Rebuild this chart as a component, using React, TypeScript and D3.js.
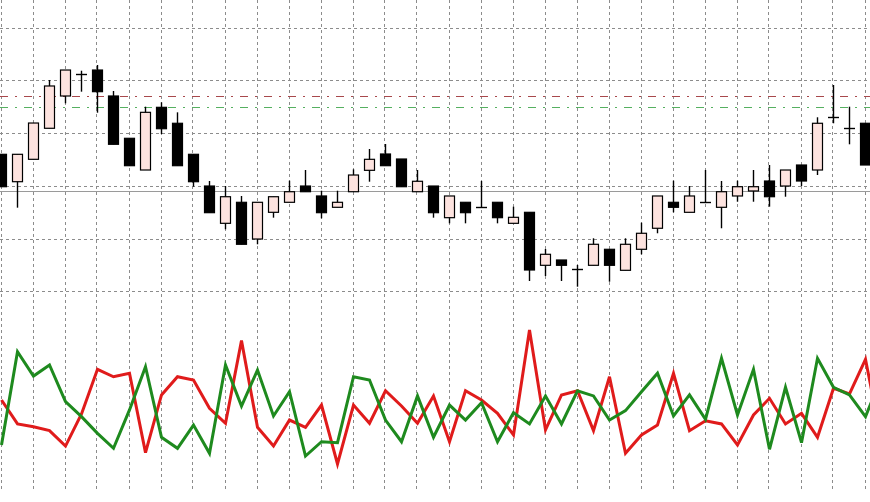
import React from "react";
import * as d3 from "d3";

const W = 870;
const H = 502;

// Candle data (price units)
const candleOpen = [76.08,70.88,75.13,81.02,87.15,91.14,92.08,87.15,79.12,73.10,85.00,81.97,76.08,70.06,62.98,66.97,60.00,65.07,66.97,70.06,68.17,66.02,68.98,73.04,76.14,75.19,68.98,70.06,64.05,66.97,66.02,66.97,62.98,65.07,55.01,56.02,54.12,55.01,58.05,54.06,58.05,62.04,66.97,65.07,66.97,66.02,68.17,69.12,71.01,70.06,74.05,73.10,83.11,81.02,81.97];
const candleHigh = [76.08,76.08,82.02,90.19,92.08,91.95,93.03,88.10,79.12,85.12,85.95,84.05,76.08,71.01,70.06,68.17,66.97,68.03,71.07,73.10,69.17,69.17,73.23,77.09,78.04,75.19,73.10,70.06,68.17,66.97,71.01,66.97,66.14,65.07,58.11,56.02,55.07,60.14,58.05,60.14,63.10,68.17,71.07,70.06,73.10,71.01,71.07,73.10,74.05,73.10,74.05,83.11,89.24,85.12,81.97];
const candleLow = [69.93,65.95,75.13,81.02,85.76,87.97,83.98,77.98,73.92,73.10,79.94,73.92,69.93,65.00,61.85,59.00,59.00,64.05,66.97,68.98,63.93,66.02,68.98,70.88,73.92,69.93,68.98,64.05,62.98,62.98,66.02,62.98,62.98,52.03,52.98,52.03,50.95,55.01,51.90,54.06,57.10,61.09,65.07,65.07,66.97,62.04,67.08,67.08,66.14,68.03,70.06,72.15,81.97,77.98,74.05];
const candleClose = [69.93,76.08,82.02,89.05,92.08,91.14,87.97,77.98,73.92,84.05,80.94,73.92,70.88,65.00,68.03,59.00,66.97,68.03,68.98,68.98,65.00,66.97,72.15,75.13,73.92,69.93,70.96,65.00,68.17,65.00,66.02,64.05,64.12,54.12,57.10,55.01,54.12,59.00,55.01,59.00,61.09,68.17,66.02,68.17,66.97,68.98,69.93,69.93,68.03,73.10,71.01,81.97,83.11,81.02,74.05];

// Horizontal price grid levels
const priceGrid = [50, 60, 70, 80, 90, 100];
// Reference levels
const redLevel = 87.02;
const greenLevel = 85.0;
const grayLevel = 68.98;

// Oscillator series (0..100)
const redOsc = [50,32.9,30.9,28.1,17.1,40,71.9,66.6,69.1,12.4,53.6,66.6,64.3,44.1,33.4,92.4,30.5,17.1,35.7,30.5,46.4,4.3,46.4,33.4,56.6,45.7,33.4,52.9,20.2,56.6,50,40.5,25,100,28.6,53.6,56.6,28.1,66.6,11.9,25,32.1,69.1,28.1,35.2,32.9,17.9,39.3,51.2,32.9,40.5,23.4,58.4,54.3,79.1,20.7];
const greenOsc = [17.9,84.5,67.1,75,48.8,38.1,26.2,15.5,42.9,73.8,23.4,15.5,32.1,11.9,75,45.7,71.4,38.6,55.9,10,20.2,19.5,66.6,64.3,35.7,20.2,52.9,23.4,46.4,35.7,48.1,20.2,40.9,32.9,52.9,32.9,56.6,52.9,35.7,42.4,55.9,69.1,38.6,53.6,36.2,79.8,39.3,71.9,14.8,59.1,19.5,79.8,59.1,53.6,38.1,66.6];

export default function App() {
  const x = d3.scaleLinear().domain([0, 54]).range([1.5, 865.5]);
  const y = d3.scaleLinear().domain([50, 100]).range([291.7, 28.3]);
  const y2 = d3.scaleLinear().domain([0, 100]).range([470, 330]);

  const crisp = (v: number) => Math.round(v - 0.5) + 0.5;

  const gridXs = d3.range(0, 56, 2).map((i) => crisp(x(i) - 0.5));
  const lineGen = d3
    .line<number>()
    .x((_, i) => x(i))
    .y((d) => y2(d));

  const gridColor = "#8c8c8c";

  return (
    <svg
      width={W}
      height={H}
      style={{ position: "absolute", left: 0, top: 0, background: "#fff" }}
    >
      <rect x={0} y={0} width={W} height={H} fill="#fff" />
      {/* vertical grid */}
      {gridXs.map((gx, k) => (
        <line
          key={"vg" + k}
          x1={gx}
          x2={gx}
          y1={0}
          y2={491}
          stroke={gridColor}
          strokeWidth={1}
          strokeDasharray="3,3"
        />
      ))}
      {/* horizontal grid */}
      {priceGrid.map((p, k) => (
        <line
          key={"hg" + k}
          x1={0}
          x2={W}
          y1={crisp(y(p))}
          y2={crisp(y(p))}
          stroke={gridColor}
          strokeWidth={1}
          strokeDasharray="3,3"
        />
      ))}
      {/* gray level */}
      <line x1={0} x2={W} y1={crisp(y(grayLevel))} y2={crisp(y(grayLevel))} stroke="#9a9a9a" strokeWidth={1} />
      {/* red & green levels */}
      <line x1={0} x2={W} y1={crisp(y(redLevel))} y2={crisp(y(redLevel))} stroke="#a8484c" strokeWidth={1} strokeDasharray="8,7,2,7" />
      <line x1={0} x2={W} y1={crisp(y(greenLevel))} y2={crisp(y(greenLevel))} stroke="#55b060" strokeWidth={1} strokeDasharray="8,7,2,7" />

      {/* candles */}
      {candleOpen.map((o, i) => {
        const c = candleClose[i];
        const h = candleHigh[i];
        const l = candleLow[i];
        const cx = crisp(x(i));
        const top = y(Math.max(o, c));
        const bot = y(Math.min(o, c));
        const bull = c > o;
        const doji = Math.abs(c - o) < 0.01;
        return (
          <g key={"c" + i}>
            <line x1={cx} x2={cx} y1={y(h)} y2={y(l)} stroke="#000" strokeWidth={1.4} />
            {doji ? (
              <line x1={cx - 5.5} x2={cx + 5.5} y1={crisp(top)} y2={crisp(top)} stroke="#000" strokeWidth={1.4} />
            ) : (
              <rect
                x={cx - 5}
                y={top}
                width={10}
                height={Math.max(1, bot - top)}
                fill={bull ? "#fde3df" : "#000"}
                stroke="#000"
                strokeWidth={1.2}
              />
            )}
          </g>
        );
      })}

      {/* oscillator lines */}
      <path d={lineGen(redOsc) || ""} fill="none" stroke="#e01b1b" strokeWidth={3} strokeLinejoin="miter" />
      <path d={lineGen(greenOsc) || ""} fill="none" stroke="#1e8a1e" strokeWidth={3} strokeLinejoin="miter" />
    </svg>
  );
}
